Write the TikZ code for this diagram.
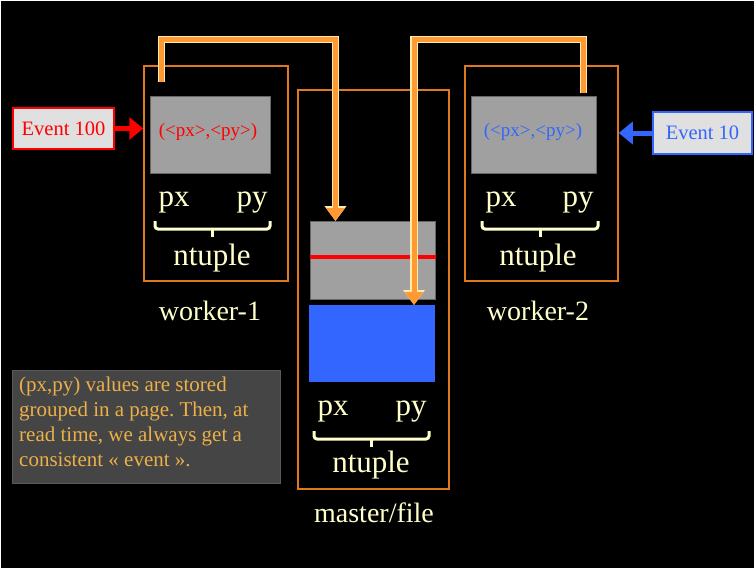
\documentclass[tikz,border=0pt]{standalone}
\usepackage{fontspec}
\setmainfont{Liberation Serif}
\usetikzlibrary{arrows.meta}
\definecolor{boxorange}{RGB}{224,120,32}
\definecolor{floworange}{RGB}{255,153,51}
\definecolor{flowedge}{RGB}{255,236,170}
\definecolor{creamtxt}{RGB}{255,255,204}
\definecolor{notetxt}{RGB}{236,176,72}
\definecolor{pagegray}{RGB}{160,160,160}
\definecolor{evblue}{RGB}{51,102,255}
\definecolor{evred}{RGB}{255,0,0}
% square bracket under the two columns: left x, right x, top y
\newcommand{\ntbracket}[3]{%
  \draw[draw=creamtxt,line width=3pt,rounded corners=3pt]
    (#1,#3) -- (#1,#3+8) -- (#2,#3+8) -- (#2,#3);
  \draw[draw=creamtxt,line width=3pt] ({(#1+#2)/2},#3+8) -- ({(#1+#2)/2},#3+16);}
\tikzset{
  frame/.style={draw=boxorange,line width=1.5pt,inner sep=0pt},
  page/.style={draw=black!60,fill=pagegray,line width=1pt,inner sep=0pt},
  evbox/.style={fill=black!12,line width=1.5pt,inner sep=0pt,
    font=\fontsize{20.5}{24}\selectfont},
  coltxt/.style={text=creamtxt,anchor=base,inner sep=0pt,font=\fontsize{31}{36}\selectfont},
  lbl/.style={text=creamtxt,anchor=base,inner sep=0pt,font=\fontsize{28}{32}\selectfont},
  flow/.style={draw=floworange,line width=5pt,
    -{Triangle[width=18pt,length=13pt]},
    preaction={draw=flowedge,line width=7.5pt,-{Triangle[width=21pt,length=15pt]}}},
  evarrow/.style={line width=5pt,-{Triangle[width=22pt,length=14pt]}}
}
\begin{document}
\frenchspacing
\begin{tikzpicture}[x=1pt,y=-1pt]
  \useasboundingbox (0,0) rectangle (756,570);
  \fill[white] (0,0) rectangle (756,570);
  \fill[black] (1,1) rectangle (754,568);

  % worker-1
  \node[frame,minimum width=144pt,minimum height=215pt] (w1) at (216,173.5) {};
  \node[page,minimum width=120pt,minimum height=77pt] (w1page) at (210,134.5) {};
  \node[text=evred,font=\fontsize{19}{22}\selectfont] (w1val) at (208,132) {(<px>,<py>)};
  \node[coltxt] (w1px) at (174,206) {px};
  \node[coltxt] (w1py) at (252,206) {py};
  \ntbracket{155}{270}{221}
  \node[coltxt] (w1nt) at (212,265) {ntuple};
  \node[lbl] (w1lbl) at (210,320) {worker-1};

  % master/file
  \node[frame,minimum width=151pt,minimum height=399pt] (mst) at (373.5,289.5) {};
  \node[page,minimum width=125pt,minimum height=78pt] (mpage) at (372.5,260) {};
  \draw[evred,line width=4pt] (mpage.west |- 0,257) -- (mpage.east |- 0,257);
  \node[fill=evblue,inner sep=0pt,minimum width=126pt,minimum height=77pt] (mblue) at (372,343.5) {};
  \node[coltxt] (mpx) at (333,415) {px};
  \node[coltxt] (mpy) at (411,415) {py};
  \ntbracket{314}{429}{431}
  \node[coltxt] (mnt) at (371,472) {ntuple};
  \node[lbl] (mlbl) at (374,522) {master/file};

  % worker-2
  \node[frame,minimum width=153pt,minimum height=215pt] (w2) at (541.5,173.5) {};
  \node[page,minimum width=125pt,minimum height=77pt] (w2page) at (533.5,134.5) {};
  \node[text=evblue,font=\fontsize{19}{22}\selectfont] (w2val) at (533,132) {(<px>,<py>)};
  \node[coltxt] (w2px) at (501,206) {px};
  \node[coltxt] (w2py) at (578,206) {py};
  \ntbracket{482}{598}{221}
  \node[coltxt] (w2nt) at (538,265) {ntuple};
  \node[lbl] (w2lbl) at (538,320) {worker-2};

  % incoming events
  \node[evbox,draw=evred,text=evred,minimum width=101pt,minimum height=41pt] (ev100) at (63.5,128.5) {Event 100};
  \node[evbox,draw=evblue,text=evblue,minimum width=99pt,minimum height=42pt] (ev10) at (702.5,133) {Event 10};
  \draw[evarrow,evred] (ev100.east) -- (ev100.east -| w1.west);
  \draw[evarrow,evblue] (ev10.west) -- (ev10.west -| w2.east);

  % flushing pages to the master
  \coordinate (lane) at (0,39.5);
  \coordinate (src1) at (161.5,82);
  \coordinate (dst1) at (335.5,221);
  \coordinate (src2) at (583.5,93);
  \coordinate (dst2) at (414,305);
  \draw[flow] (src1) -- (src1 |- lane) -| (dst1);
  \draw[flow] (src2) -- (src2 |- lane) -| (dst2);

  % note
  \node[fill=black!73,draw=black!65,line width=1pt,minimum width=268pt,minimum height=113pt,
        inner sep=0pt] (note) at (146,426.5) {};
  \node[anchor=north west,text=notetxt,align=left,inner sep=0pt,
        font=\fontsize{21}{25}\selectfont] (notetxt) at (19,377)
        {(px,py) values are stored\\grouped in a page. Then, at\\read time, we always get a\\consistent « event ».};
\end{tikzpicture}
\end{document}
